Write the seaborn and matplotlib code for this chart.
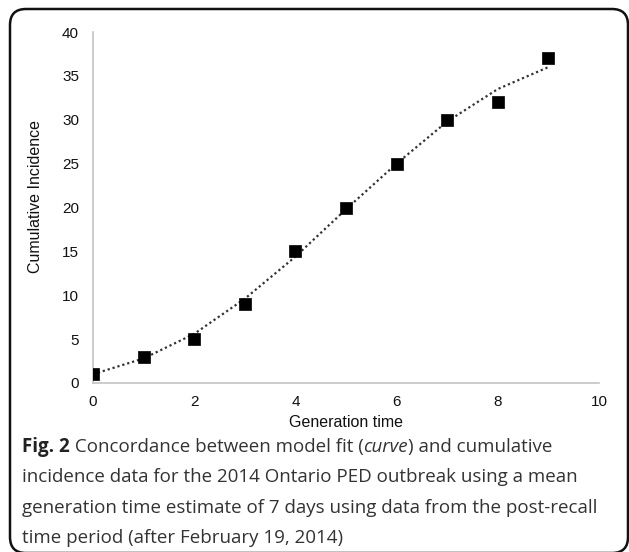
import matplotlib
matplotlib.use("Agg")
import matplotlib.pyplot as plt
from matplotlib.patches import FancyBboxPatch
import pandas as pd
import seaborn as sns

# observed cumulative incidence by generation
generation = [0, 1, 2, 3, 4, 5, 6, 7, 8, 9]
observed = [1, 3, 5, 9, 15, 20, 25, 30, 32, 37]
# model fit (curve)
fitted = [1.0, 2.8, 5.6, 9.6, 14.4, 19.8, 25.0, 29.8, 33.5, 36.0]

x_ticks = [0, 2, 4, 6, 8, 10]
y_ticks = [0, 5, 10, 15, 20, 25, 30, 35, 40]

caption_bold = "Fig. 2"
caption_lines = [
    " Concordance between model fit (",
    "incidence data for the 2014 Ontario PED outbreak using a mean",
    "generation time estimate of 7 days using data from the post-recall",
    "time period (after February 19, 2014)",
]

df = pd.DataFrame({"gen": generation, "obs": observed, "fit": fitted})

sns.set_style("white")
plt.rcParams["font.family"] = ["Liberation Sans", "DejaVu Sans"]

W, H = 629, 552
fig = plt.figure(figsize=(W / 100, H / 100), dpi=100)
ax = fig.add_axes([93 / W, 1 - 383 / H, (599 - 93) / W, (383 - 32) / H])

sns.lineplot(data=df, x="gen", y="fit", ax=ax, color="#333333",
             linestyle=(0, (1, 1.3)), linewidth=1.6)
sns.scatterplot(data=df, x="gen", y="obs", ax=ax, marker="s", s=66,
                color="black", edgecolor="black", linewidth=0.5, zorder=3)

ax.set_xlim(0, 10)
ax.set_ylim(0, 40)
ax.set_xticks(x_ticks)
ax.set_yticks(y_ticks)
ax.tick_params(axis="both", direction="out", length=4, width=0.9,
               color="#bdbdbd", labelsize=11, labelcolor="#111111")
ax.tick_params(axis="y", pad=6)
ax.tick_params(axis="x", pad=5)
for side in ["top", "right"]:
    ax.spines[side].set_visible(False)
for side in ["left", "bottom"]:
    ax.spines[side].set_color("#c4c4c4")
    ax.spines[side].set_linewidth(1.2)
ax.set_xlabel("Generation time", fontsize=11.5, color="#111111")
ax.set_ylabel("Cumulative Incidence", fontsize=11.5, color="#111111")
ax.xaxis.set_label_coords(0.5, -0.09)
ax.yaxis.set_label_coords(-0.098, 0.53)

# caption
cap_font = ["Open Sans", "DejaVu Sans"]
fs = 13.5
x0 = 22 / W
base = [452, 482.5, 513, 543]
t = fig.text(x0, 1 - base[0] / H, caption_bold, fontsize=fs, family=cap_font,
             fontweight="bold", color="#222222", va="baseline")
fig.canvas.draw()
x1 = t.get_window_extent().x1 / W
t2 = fig.text(x1, 1 - base[0] / H, caption_lines[0], fontsize=fs, family=cap_font,
              color="#333333", va="baseline")
fig.canvas.draw()
x2 = t2.get_window_extent().x1 / W
t3 = fig.text(x2, 1 - base[0] / H, "curve", fontsize=fs, family=cap_font,
              style="italic", color="#333333", va="baseline")
fig.canvas.draw()
x3 = t3.get_window_extent().x1 / W
fig.text(x3, 1 - base[0] / H, ") and cumulative", fontsize=fs, family=cap_font,
         color="#333333", va="baseline")
for line, b in zip(caption_lines[1:], base[1:]):
    fig.text(x0, 1 - b / H, line, fontsize=fs, family=cap_font,
             color="#333333", va="baseline")

# rounded frame around figure
frame = FancyBboxPatch((0.10, -0.01), 6.18, 5.44,
                       boxstyle="round,pad=0,rounding_size=0.16",
                       transform=fig.dpi_scale_trans, fill=False,
                       edgecolor="#111111", linewidth=1.8)
fig.patches.append(frame)

fig.savefig("out.png", dpi=100)
